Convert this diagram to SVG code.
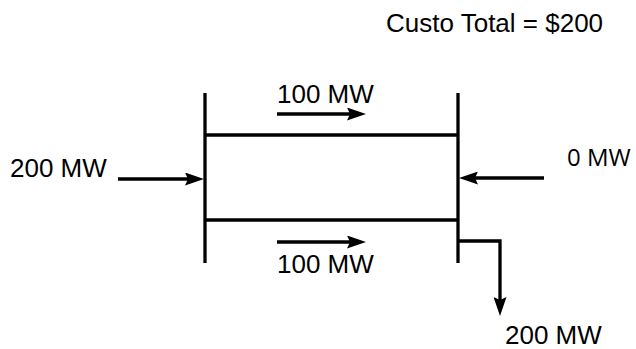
<svg xmlns="http://www.w3.org/2000/svg" width="636" height="349" viewBox="0 0 636 349">
  <style>
    .bus { stroke: #000; stroke-width: 3.3; fill: none; stroke-linecap: butt; }
    .flow { stroke: #000; stroke-width: 3.3; fill: none; marker-end: url(#ah); }
    .lbl { font-family: "Liberation Sans", Arial, sans-serif; font-size: 26px; fill: #000; }
    .lbl2 { font-family: "Open Sans", "Noto Sans", sans-serif; font-size: 24px; fill: #000; }
  </style>
  <defs>
    <marker id="ah" viewBox="0 0 19 13" refX="8" refY="6.5" markerWidth="19" markerHeight="13" markerUnits="userSpaceOnUse" orient="auto">
      <path d="M0,0 L19,6.5 L0,13 L3,6.5 Z" fill="#000"/>
    </marker>
  </defs>
  <rect width="636" height="349" fill="#fff"/>

  <g id="bus-left">
    <line class="bus" x1="205" y1="93" x2="205" y2="263"/>
  </g>
  <g id="bus-right">
    <line class="bus" x1="458" y1="93" x2="458" y2="263"/>
  </g>
  <g id="line-top">
    <line class="bus" x1="205" y1="135" x2="458" y2="135"/>
    <text class="lbl" x="277" y="103">100 MW</text>
  </g>
  <g id="line-bottom">
    <line class="bus" x1="205" y1="220" x2="458" y2="220"/>
    <text class="lbl" x="277" y="273">100 MW</text>
  </g>
  <g id="gen-left">
    <text class="lbl" x="10" y="177">200 MW</text>
  </g>
  <g id="gen-right">
    <text class="lbl2" x="567" y="166">0 MW</text>
  </g>
  <g id="load">
    <text class="lbl" x="505" y="344">200 MW</text>
  </g>
  <g id="cost">
    <text class="lbl" x="386" y="32">Custo Total = $200</text>
  </g>

  <g id="connectors">
    <line class="flow" x1="277" y1="114" x2="355" y2="114"/>
    <line class="flow" x1="277" y1="242" x2="355" y2="242"/>
    <line class="flow" x1="118" y1="179" x2="193" y2="179"/>
    <line class="flow" x1="544" y1="178" x2="470" y2="178"/>
    <polyline class="flow" points="458,241 500,241 500,305"/>
  </g>
</svg>
